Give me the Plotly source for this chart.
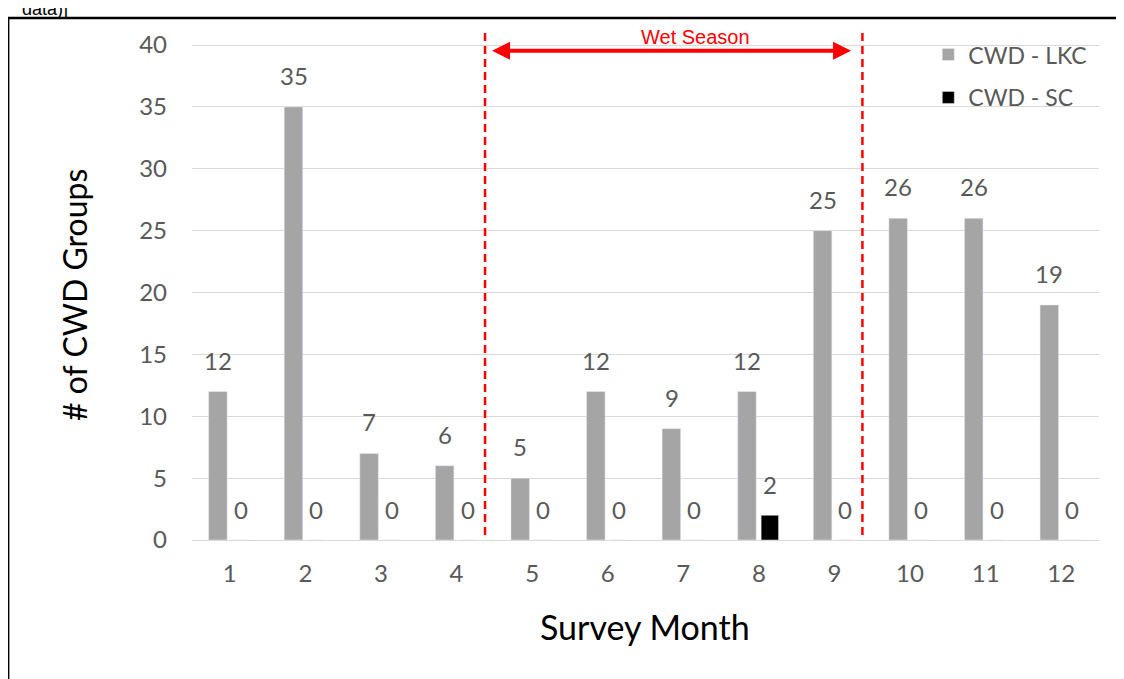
import plotly.graph_objects as go

months = list(range(1, 13))
month_labels = [str(m) for m in months]
lkc = [12, 35, 7, 6, 5, 12, 9, 12, 25, 26, 26, 19]
sc = [0, 0, 0, 0, 0, 0, 0, 2, 0, 0, 0, 0]
wet_start, wet_end = 4.377, 9.37

GRAY_TXT = "#595959"
FONT = "Lato, 'Open Sans', sans-serif"

fig = go.Figure()
fig.add_trace(go.Bar(x=months, y=lkc, name="CWD - LKC", marker_color="#a5a5a5",
                     offset=-0.28, width=0.245, legendgroup="a"))
fig.add_trace(go.Bar(x=months, y=sc, name="CWD - SC", marker_color="#000000",
                     offset=0.03, width=0.23, legendgroup="b"))

anns = []
for m, v in zip(months, lkc):
    anns.append(dict(x=m - 0.155, y=v, text=str(v), showarrow=False, yanchor="bottom",
                     yshift=15, font=dict(size=24, color=GRAY_TXT, family=FONT)))
for m, v in zip(months, sc):
    anns.append(dict(x=m + 0.145, y=v, text=str(v), showarrow=False, yanchor="bottom",
                     yshift=14, font=dict(size=24, color=GRAY_TXT, family=FONT)))
# wet season arrow and label
anns.append(dict(x=9.22, y=39.55, ax=4.45, ay=39.55, axref="x", ayref="y", xref="x", yref="y",
                 text="", showarrow=True, arrowhead=2, arrowside="end+start",
                 arrowcolor="#ff0000", arrowwidth=4, arrowsize=0.9))
anns.append(dict(x=7.16, y=40.65, text="Wet Season", showarrow=False,
                 font=dict(size=20, color="#ff0000", family="Liberation Sans, Arial")))
# axis titles
anns.append(dict(x=-0.1293, y=0.479, xref="paper", yref="paper", text="# of CWD Groups",
                 textangle=-90, showarrow=False, xanchor="center", yanchor="middle",
                 font=dict(size=32, color="#000000", family=FONT)))
anns.append(dict(x=0.4994, y=-0.170, xref="paper", yref="paper", text="Survey Month",
                 showarrow=False, xanchor="center", yanchor="middle",
                 font=dict(size=34, color="#000000", family=FONT)))
# caption text at very top (cut off in the original)
anns.append(dict(x=-0.19, y=1.0, xref="paper", yref="paper", yshift=20,
                 text="data)]", showarrow=False, xanchor="left", yanchor="middle",
                 font=dict(size=18, color="#000000", family="Liberation Sans, Arial")))

shapes = []
for xv in (wet_start, wet_end):
    shapes.append(dict(type="line", x0=xv, x1=xv, y0=0.4, y1=41.2, xref="x", yref="y",
                       line=dict(color="#ff0000", width=2.5, dash="8px,5px")))
shapes.append(dict(type="rect", xref="paper", yref="paper", x0=-0.2027, x1=1.0433,
                   y0=-0.4, y1=1.0216, line=dict(color="#000000", width=2.5), layer="above"))

fig.update_layout(
    width=1124, height=679,
    margin=dict(l=184, r=33, t=21, b=147),
    plot_bgcolor="white", paper_bgcolor="white",
    barmode="overlay",
    annotations=anns, shapes=shapes,
    legend=dict(x=0.9926, y=0.992, xanchor="right", yanchor="top",
                font=dict(size=23, color=GRAY_TXT, family=FONT),
                traceorder="grouped", tracegroupgap=10, bgcolor="rgba(0,0,0,0)"),
    xaxis=dict(range=[0.5, 12.5], tickvals=months, ticktext=month_labels,
               tickfont=dict(size=24, color=GRAY_TXT, family=FONT), showgrid=False,
               showline=True, linecolor="#d9d9d9", linewidth=1, ticks="", zeroline=False,
               ticklabelstandoff=12),
    yaxis=dict(range=[0, 41.3], tickvals=list(range(0, 45, 5)),
               tickfont=dict(size=24, color=GRAY_TXT, family=FONT),
               showgrid=True, gridcolor="#d9d9d9", gridwidth=1, zeroline=False,
               ticks="", ticklabelstandoff=24),
)

fig.write_html("out.html")
